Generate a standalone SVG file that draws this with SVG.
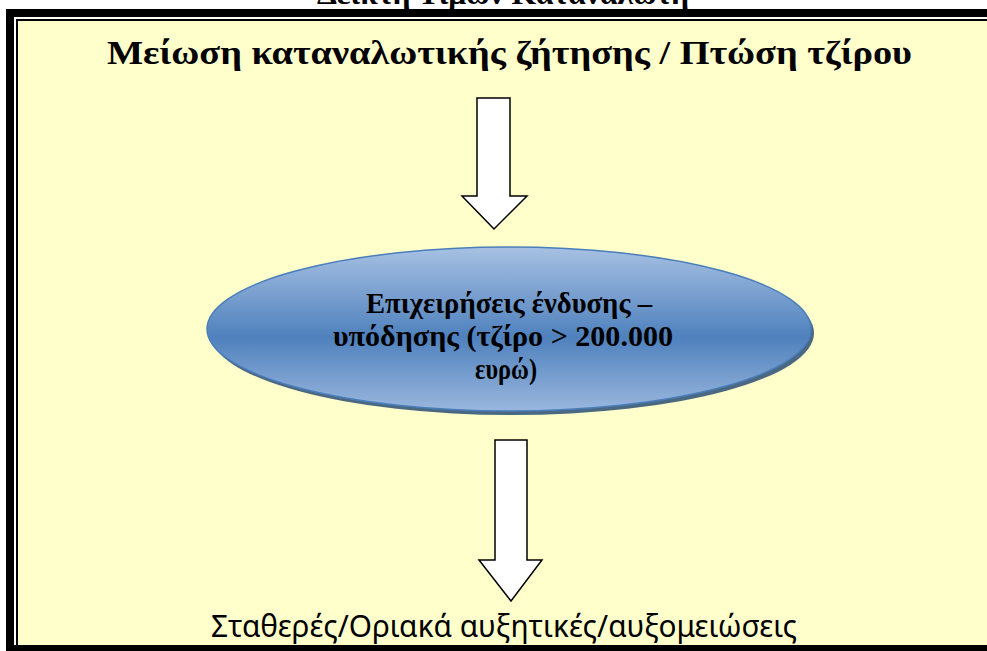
<svg xmlns="http://www.w3.org/2000/svg" width="987" height="651" viewBox="0 0 987 651">
<defs>
<style>
.serif{font-family:"Liberation Serif","Times New Roman",serif;font-weight:bold;fill:#000}
.sans{font-family:"Noto Sans","Liberation Sans",sans-serif;fill:#000}
.arrow{fill:#fff;stroke:#000;stroke-width:1.5;stroke-linejoin:miter}
</style>
<linearGradient id="eg" x1="0" y1="0" x2="0" y2="1">
<stop offset="0" stop-color="#a7c1e3"/>
<stop offset="0.55" stop-color="#4f81bd"/>
<stop offset="1" stop-color="#9ab7de"/>
</linearGradient>
</defs>
<rect x="0" y="0" width="987" height="651" fill="#fff"/>
<text class="serif" x="317" y="4" font-size="30" textLength="372" lengthAdjust="spacingAndGlyphs">Δείκτη Τιμών Καταναλωτή</text>
<g id="frame">
<rect x="6" y="9" width="1000" height="700" fill="#000"/>
<rect x="14" y="17" width="1000" height="700" fill="#fff"/>
<rect x="16" y="19" width="1000" height="700" fill="#000"/>
<rect x="18" y="21" width="1000" height="624" fill="#ffffcc"/>
<rect x="6" y="645" width="990" height="10" fill="#000"/>
</g>
<g id="title">
<text class="serif" x="107" y="64" font-size="34" textLength="805" lengthAdjust="spacingAndGlyphs">Μείωση καταναλωτικής ζήτησης / Πτώση τζίρου</text>
</g>
<g id="connectors">
<path class="arrow" d="M477,98 H510 V196 H527 L494,229 L462,196 H477 Z"/>
<path class="arrow" d="M495,440 H527 V560 H542 L511,601 L479,560 H495 Z"/>
</g>
<g id="business">
<ellipse cx="512" cy="333" rx="302" ry="82" fill="#2c4d75" opacity="0.85"/>
<ellipse cx="509" cy="329" rx="302" ry="82" fill="url(#eg)" stroke="#4a7ebb" stroke-width="1.5"/>
<text class="serif" x="366" y="313" font-size="29" textLength="286" lengthAdjust="spacingAndGlyphs">Επιχειρήσεις ένδυσης –</text>
<text class="serif" x="333" y="346" font-size="29" textLength="340" lengthAdjust="spacingAndGlyphs">υπόδησης (τζίρο &gt; 200.000</text>
<text class="serif" x="475" y="379" font-size="29" textLength="62" lengthAdjust="spacingAndGlyphs">ευρώ)</text>
</g>
<g id="result">
<text class="sans" x="211" y="637" font-size="30" textLength="586" lengthAdjust="spacingAndGlyphs">Σταθερές/Οριακά αυξητικές/αυξομειώσεις</text>
</g>
</svg>
